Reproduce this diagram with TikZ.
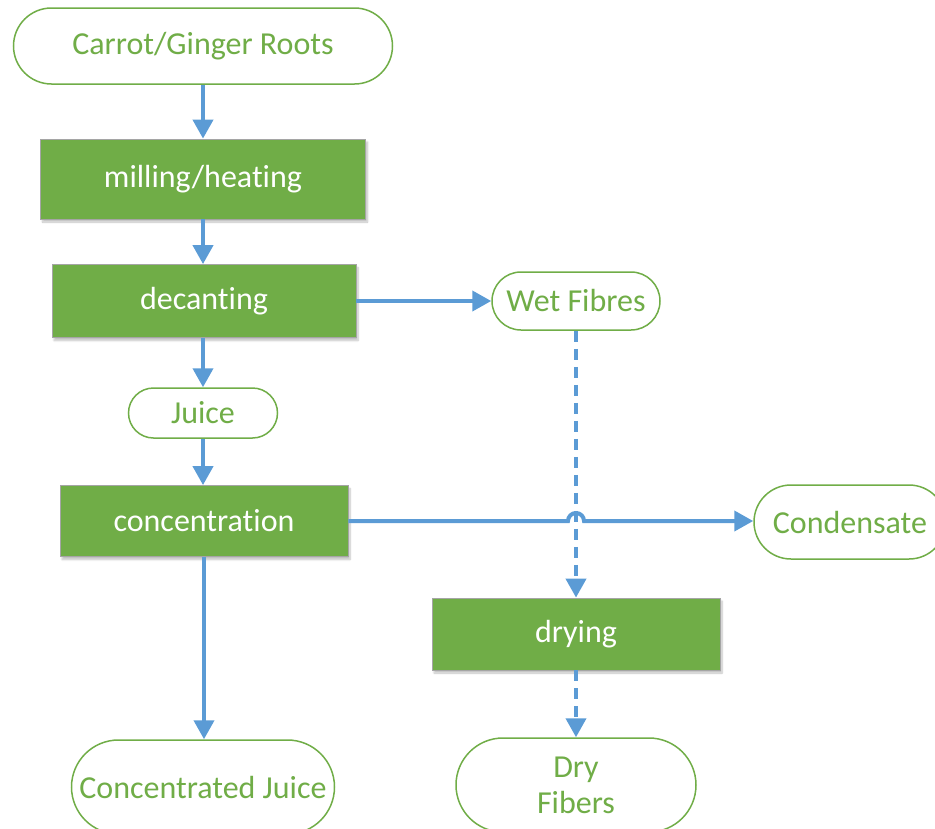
\documentclass[tikz,border=0pt]{standalone}
\usepackage{fontspec}
\setmainfont{Carlito}[RawFeature=-liga]
\usetikzlibrary{arrows.meta,shapes.misc,shadows.blur}
\definecolor{procgreen}{HTML}{70AD47}
\definecolor{flowblue}{HTML}{5B9BD5}
\definecolor{boxedge}{HTML}{A5A5A5}
\begin{document}
\begin{tikzpicture}[x=1pt,y=-1pt,
  procbox/.style={rectangle,fill=procgreen,draw=boxedge,line width=0.8pt,text=white,
    inner sep=0pt,font=\fontsize{32}{36}\selectfont,
    blur shadow={shadow xshift=2pt,shadow yshift=-3pt,shadow blur steps=6,shadow opacity=25}},
  termbox/.style={rounded rectangle,fill=white,draw=procgreen,line width=1.5pt,text=procgreen,
    inner sep=0pt,font=\fontsize{32}{36}\selectfont,align=center},
  flow/.style={draw=flowblue,line width=4pt,-{Triangle[width=20pt,length=19pt]}},
  dflow/.style={flow,dash pattern=on 11pt off 7pt}
]
\useasboundingbox (0,0) rectangle (935,828);
\node[termbox,minimum width=379pt,minimum height=76pt] (roots) at (203,46) {Carrot/Ginger Roots};
\node[procbox,minimum width=325pt,minimum height=80pt] (mill) at (203,179) {milling/heating};
\node[procbox,minimum width=304pt,minimum height=73pt] (dec) at (204,301) {decanting};
\node[termbox,minimum width=168pt,minimum height=58pt] (wet) at (576,301) {Wet Fibres};
\node[termbox,minimum width=149pt,minimum height=50pt] (juice) at (203,413) {Juice};
\node[procbox,minimum width=288pt,minimum height=71pt] (conc) at (204,521) {concentration};
\node[termbox,minimum width=192pt,minimum height=74pt] (cond) at (850,522) {Condensate};
\node[procbox,minimum width=288pt,minimum height=72pt] (dry) at (576,634) {drying};
\node[termbox,minimum width=263pt,minimum height=94pt] (cjuice) at (203,787) {Concentrated Juice};
\node[termbox,minimum width=240pt,minimum height=94pt] (dfib) at (576,785) {Dry\\Fibers};
\coordinate (hopL) at (568,521);
\draw[flow] (roots.south -| 203,0) -- (mill.north -| 203,0);
\draw[flow] (mill.south -| 203,0) -- (dec.north -| 203,0);
\draw[flow] (dec.east |- 0,301) -- (wet.west);
\draw[flow] (dec.south -| 203,0) -- (juice.north);
\draw[flow] (juice.south) -- (conc.north -| juice.south);
\draw[flow] (conc.south -| 204,0) -- (cjuice.north -| 204,0);
\draw[dflow] (wet.south) -- (dry.north);
\draw[dflow] (dry.south) -- (dfib.north);
\draw[flow] (conc.east |- hopL) -- (hopL) arc[start angle=180,end angle=0,radius=8pt] -- (cond.west |- hopL);
\end{tikzpicture}
\end{document}
